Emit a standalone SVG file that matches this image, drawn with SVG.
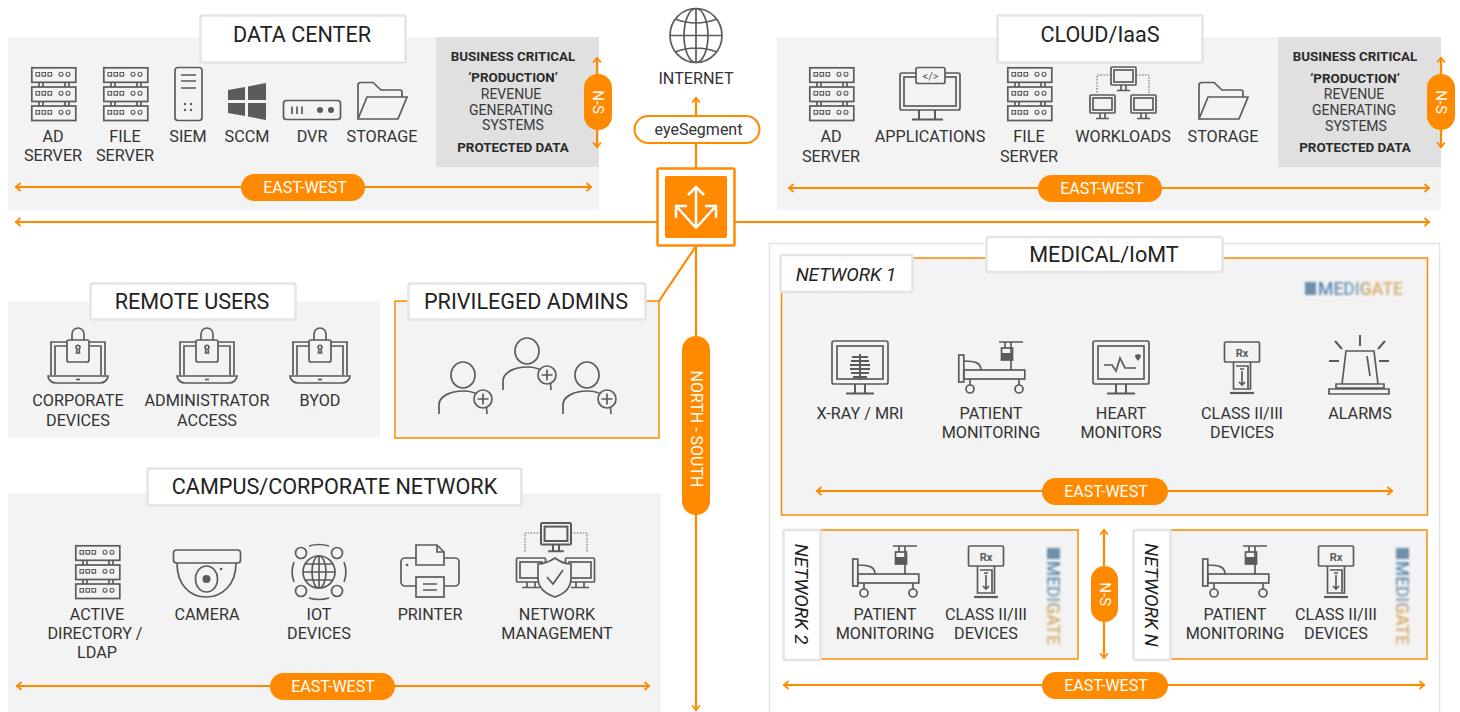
<svg xmlns="http://www.w3.org/2000/svg" width="1460" height="712" viewBox="0 0 1460 712">
<style>
text{font-family:Roboto,"Liberation Sans",sans-serif}
.panel{fill:#f3f3f3}
.op{fill:#f3f3f3;stroke:#ff8a00;stroke-width:1.5}
.grey{fill:#e0e0e0}
.tb{fill:#fff;stroke:#e4e4e4;stroke-width:2.5}
.t{font-size:21.6px;fill:#222;text-anchor:middle}
.l{font-size:16.2px;fill:#333;text-anchor:middle}
.b{font-size:13.4px;font-weight:700;fill:#2b2b2b;text-anchor:middle}
.r{font-size:14px;fill:#3a3a3a;text-anchor:middle}
.it{font-size:18.8px;font-style:italic;fill:#222;text-anchor:middle}
.ic{fill:none;stroke:#5b5b5b;stroke-width:1.7}
.if{fill:#f3f3f3;stroke:#5b5b5b;stroke-width:1.7}
.sf{fill:#5b5b5b}
.dot{fill:none;stroke:#5b5b5b;stroke-width:1;stroke-dasharray:1.5 1.5}
.c{fill:none;stroke:#ff8a00;stroke-width:2.2;marker-start:url(#ah);marker-end:url(#ah)}
.c1{fill:none;stroke:#ff8a00;stroke-width:2.2}
.pill{fill:#ff8a00}
.pt{font-size:16px;fill:#fff;text-anchor:middle}
.ns{font-size:15px;fill:#fff;text-anchor:middle}
.logo{font-size:19px;font-weight:500;fill:url(#lg);filter:url(#bl);text-anchor:middle}
.lm{fill:#6f8fa8;filter:url(#bl)}
</style>
<defs>
<marker id="ah" viewBox="0 0 7 10" refX="6.500" refY="5" markerWidth="7" markerHeight="10" markerUnits="userSpaceOnUse" orient="auto-start-reverse"><path d="M1,1 L5.500,5 L1,9" fill="none" stroke="#ff8a00" stroke-width="1.800"/></marker>
<linearGradient id="lg"><stop offset="0" stop-color="#4f7fa8"/><stop offset=".45" stop-color="#7f9fb8"/><stop offset=".6" stop-color="#d9a860"/><stop offset="1" stop-color="#d8b27e"/></linearGradient>
<filter id="bl" x="-20%" y="-30%" width="140%" height="160%"><feGaussianBlur stdDeviation="0.9"/></filter>
<g id="server"><g class="ic"><rect x="0.800" y="0.800" width="44" height="14.500"/><rect x="0.800" y="20" width="44" height="14.500"/><rect x="0.800" y="39" width="44" height="14.500"/><path d="M8,15.300V20M12,15.300V20M34,15.300V20M38,15.300V20M8,34.500V39M12,34.500V39M34,34.500V39M38,34.500V39"/></g><g fill="none" stroke="#5b5b5b" stroke-width="1.100"><path d="M5,5.500h3.600v3.600h-3.600zM11,5.500h3.600v3.600h-3.600zM17,5.500h3.600v3.600h-3.600z"/><circle cx="30" cy="7.300" r="2"/><circle cx="37" cy="7.300" r="2"/><path d="M5,24.500h3.600v3.600h-3.600zM11,24.500h3.600v3.600h-3.600zM17,24.500h3.600v3.600h-3.600z"/><circle cx="30" cy="26.300" r="2"/><circle cx="37" cy="26.300" r="2"/><path d="M5,43.500h3.600v3.600h-3.600zM11,43.500h3.600v3.600h-3.600zM17,43.500h3.600v3.600h-3.600z"/><circle cx="30" cy="45.300" r="2"/><circle cx="37" cy="45.300" r="2"/></g></g>
<g id="folder" class="ic"><path d="M1,36 V3 Q1,0.500 4,0.500 H16 L24,8 H43 Q45,8 45,10 V15"/><path d="M1,37 L10,15 H50 L41,37 Z"/></g>
<g id="laptop" class="ic"><path d="M-11,14H-27V47M11,14H27V47M-11,18H-23V47M11,18H23V47"/><path d="M-30,48H30C30,52 26,55 22,55H-22C-26,55 -30,52 -30,48Z"/><path d="M-2,51.500H2"/><path d="M-6,12V6a6,6 0 0 1 12,0V12"/><rect x="-11" y="12" width="22" height="22" rx="2"/><path d="M-1.500,25 L-1,21 a2,2 0 1 1 2,0 L1.500,25Z"/></g>
<g id="person"><path class="ic" d="M-24,39V30C-24,21 -12,16 0,16C12,16 24,21 24,39"/><ellipse class="ic" cx="0" cy="0" rx="12" ry="13"/><circle class="if" cx="20" cy="24" r="9"/><path class="ic" d="M14.500,24H25.500M20,18.500V29.500"/></g>
<g id="mon"><g class="ic"><rect x="-28" y="0" width="56" height="43" rx="2"/><rect x="-23" y="5" width="46" height="33"/><path d="M-5,43V52M5,43V52M-14,52.500H14" stroke-width="2"/></g></g>
<g id="bed"><g class="ic"><rect x="0.800" y="13" width="5" height="27"/><rect x="5.800" y="28" width="61" height="9"/><path d="M6,19C17,19 23,21 23,28"/><path d="M53,0V28M41,0H65"/><path d="M47,0V6"/><rect x="43.500" y="6" width="11" height="12"/><path d="M12,37V43M61,37V43"/><circle cx="12" cy="47" r="4"/><circle cx="61" cy="47" r="4"/></g><rect class="sf" x="43.500" y="11" width="11" height="7"/></g>
<g id="rx"><g class="ic"><rect x="-17.500" y="0" width="35" height="20" rx="1"/><path d="M-8.500,20V47H8.500V20"/><path d="M-6,24H6V47"/><path d="M0,29V43M-3,40L0,43L3,40M-2,27H2"/><path d="M-12,51H12" stroke-width="2.200"/></g><text x="0" y="14.500" text-anchor="middle" font-size="11" font-weight="700" fill="#5b5b5b">Rx</text></g>
<g id="mini"><g class="ic"><rect x="0" y="0" width="25" height="18" rx="1"/><rect x="3" y="3" width="19" height="12"/><path d="M10,18V23M15,18V23M6,23.500H19"/></g></g>
</defs>
<rect width="1460" height="712" fill="#fff"/>

<g id="data-center">
<rect class="panel" x="8" y="37" width="591" height="173"/>
<rect class="grey" x="436" y="37" width="163" height="130"/>
<rect class="tb" x="200.500" y="15.500" width="205" height="47" rx="2"/>
<text class="t" x="302" y="42">DATA CENTER</text>
<use href="#server" x="31" y="67"/><text class="l" x="53" y="142">AD</text><text class="l" x="53" y="161">SERVER</text>
<use href="#server" x="103" y="67"/><text class="l" x="125" y="142">FILE</text><text class="l" x="125" y="161">SERVER</text>
<g class="ic"><rect x="175" y="67.500" width="27" height="53" rx="3"/><path d="M181,75H196M181,81H196M181,88H196"/></g>
<g class="sf"><circle cx="185" cy="104" r="1.200"/><circle cx="191" cy="104" r="1.200"/><circle cx="185" cy="110" r="1.200"/><circle cx="191" cy="110" r="1.200"/></g>
<text class="l" x="188" y="142">SIEM</text>
<path class="sf" d="M228,90 245,87V100H228ZM248,86.500 266,83V100H248ZM228,103H245V116L228,113ZM248,103H266V120L248,116.500Z"/>
<text class="l" x="247" y="142">SCCM</text>
<rect class="ic" x="283.500" y="100.500" width="57" height="19" rx="3"/><path class="ic" d="M292,106.500V114M297,106.500V114M302,106.500V114" stroke-width="2"/><circle class="sf" cx="320" cy="110" r="3"/><circle class="sf" cx="331" cy="110" r="3"/>
<text class="l" x="312" y="142">DVR</text>
<use href="#folder" x="357" y="82"/><text class="l" x="382" y="142">STORAGE</text>
<text class="b" x="513" y="61">BUSINESS CRITICAL</text><text class="b" x="513" y="82">‘PRODUCTION’</text>
<text class="r" x="511" y="99">REVENUE</text><text class="r" x="511" y="115">GENERATING</text><text class="r" x="513" y="130">SYSTEMS</text>
<text class="b" x="513" y="152">PROTECTED DATA</text>
</g>

<g id="cloud">
<rect class="panel" x="777" y="37" width="664" height="173"/>
<rect class="grey" x="1278" y="37" width="163" height="130"/>
<rect class="tb" x="997.500" y="15.500" width="205" height="47" rx="2"/>
<text class="t" x="1100" y="42">CLOUD/IaaS</text>
<use href="#server" x="809" y="67"/><text class="l" x="831" y="142">AD</text><text class="l" x="831" y="162">SERVER</text>
<g class="ic"><rect x="900" y="73" width="60" height="37" rx="2"/><rect x="904" y="77" width="52" height="29"/><path d="M919,110V119M935,110V119M912,119.500H943" stroke-width="2"/></g>
<rect class="if" x="916" y="67.500" width="29" height="16" rx="2"/><text x="930.500" y="79.500" text-anchor="middle" font-size="11" fill="#5b5b5b">&lt;/&gt;</text>
<text class="l" x="930" y="142">APPLICATIONS</text>
<use href="#server" x="1007" y="67"/><text class="l" x="1029" y="142">FILE</text><text class="l" x="1029" y="162">SERVER</text>
<use href="#mini" x="1111" y="67"/><use href="#mini" x="1090" y="95"/><use href="#mini" x="1131" y="95"/><path class="dot" d="M1111,75H1097V93M1136,75H1149V93"/>
<text class="l" x="1123" y="142">WORKLOADS</text>
<use href="#folder" x="1198" y="82"/><text class="l" x="1223" y="142">STORAGE</text>
<text class="b" x="1355" y="61">BUSINESS CRITICAL</text><text class="b" x="1355" y="83">‘PRODUCTION’</text>
<text class="r" x="1354" y="99">REVENUE</text><text class="r" x="1354" y="115">GENERATING</text><text class="r" x="1356" y="131">SYSTEMS</text>
<text class="b" x="1355" y="152">PROTECTED DATA</text>
</g>

<g id="internet">
<g class="ic"><ellipse cx="696" cy="35.500" rx="26" ry="27"/><ellipse cx="696" cy="35.500" rx="12" ry="27"/><path d="M670,35.500H722M696,8.500V62.500M675,19Q696,27 717,19M675,52Q696,44 717,52"/></g>
<text class="l" x="696" y="84">INTERNET</text>
</g>

<g id="remote-users">
<rect class="panel" x="8" y="301" width="372" height="137"/>
<rect class="tb" x="90.500" y="283.500" width="205" height="36" rx="2"/>
<text class="t" x="192" y="309">REMOTE USERS</text>
<use href="#laptop" x="78" y="328"/><text class="l" x="78" y="406">CORPORATE</text><text class="l" x="78" y="426">DEVICES</text>
<use href="#laptop" x="207" y="328"/><text class="l" x="207" y="406">ADMINISTRATOR</text><text class="l" x="207" y="426">ACCESS</text>
<use href="#laptop" x="320" y="328"/><text class="l" x="320" y="406">BYOD</text>
</g>

<g id="privileged-admins">
<rect class="op" x="395" y="301" width="264" height="137"/>
<rect class="tb" x="408.500" y="283.500" width="237" height="36" rx="2"/>
<text class="t" x="526" y="309">PRIVILEGED ADMINS</text>
<use href="#person" x="463" y="375"/><use href="#person" x="527" y="351"/><use href="#person" x="587" y="375"/>
</g>

<g id="campus">
<rect class="panel" x="8" y="493" width="653" height="219"/>
<rect class="tb" x="147.500" y="468.500" width="374" height="37" rx="2"/>
<text class="t" x="334.500" y="494">CAMPUS/CORPORATE NETWORK</text>
<use href="#server" x="75" y="545"/>
<text class="l" x="97" y="620">ACTIVE</text><text class="l" x="95" y="639">DIRECTORY /</text><text class="l" x="97" y="658">LDAP</text>
<g class="ic"><rect x="173.500" y="550" width="67" height="13" rx="3"/><path d="M177,563C177,585 190,597 206,597C222,597 236,585 236,563"/><ellipse cx="206.500" cy="579" rx="11" ry="13"/></g><circle class="sf" cx="206.500" cy="579" r="4"/><circle class="sf" cx="221" cy="569" r="1.300"/>
<text class="l" x="207" y="620">CAMERA</text>
<g class="ic"><circle cx="319" cy="572" r="16"/><ellipse cx="319" cy="572" rx="7" ry="16"/><path d="M303,572H335M319,556V588M305,564H333M305,580H333"/><path d="M294,562A28,28 0 0 0 294,582M344,562A28,28 0 0 1 344,582M309,546Q319,543 329,546M309,598Q319,601 329,598"/></g>
<g class="if"><circle cx="301" cy="553" r="5.500"/><circle cx="337" cy="553" r="5.500"/><circle cx="301" cy="591" r="5.500"/><circle cx="337" cy="591" r="5.500"/></g>
<text class="l" x="319" y="620">IOT</text><text class="l" x="319" y="639">DEVICES</text>
<g class="ic"><rect x="401" y="558" width="58" height="28" rx="4"/><path class="if" d="M416,565V545H437L444,552V565Z"/><path d="M437,545V552H444"/><rect class="if" x="416" y="577" width="28" height="20"/><path d="M423,584H437M423,590H437"/></g><circle class="sf" cx="407" cy="565" r="1.300"/>
<text class="l" x="430" y="620">PRINTER</text>
<use href="#mini" transform="translate(541,523) scale(1.200)"/>
<path class="dot" d="M541,533H525V553M571,533H587V553"/>
<g class="ic"><rect x="516.500" y="558" width="29" height="24" rx="1"/><rect x="520" y="562" width="22" height="16"/><path d="M527,582V587M535,582V587M522,587.500H540"/><rect x="565.500" y="558" width="29" height="24" rx="1"/><rect x="569" y="562" width="22" height="16"/><path d="M576,582V587M584,582V587M571,587.500H589"/></g>
<path class="if" d="M555,558Q546,564 538,564V578C538,588 546,594 555,597C564,594 571,588 571,578V564Q563,564 555,558Z"/>
<path class="ic" d="M547,577L553,584L563,570"/>
<text class="l" x="557" y="620">NETWORK</text><text class="l" x="557" y="639">MANAGEMENT</text>
</g>

<g id="medical">
<rect x="769.500" y="243.500" width="670" height="470" fill="#fff" stroke="#e4e4e4" stroke-width="1.500"/>
<rect class="op" x="781.500" y="258" width="646" height="257"/>
<rect class="tb" x="986.500" y="237" width="236" height="35" rx="2"/>
<text class="t" x="1104" y="262">MEDICAL/IoMT</text>
</g>

<g id="network-1">
<rect class="tb" x="780.500" y="255" width="132" height="37" rx="2"/>
<text class="it" x="846" y="281">NETWORK 1</text>
<rect class="lm" x="1305" y="282" width="11" height="13"/>
<text class="logo" x="1360.500" y="295" textLength="85" lengthAdjust="spacingAndGlyphs">MEDIGATE</text>
<use href="#mon" x="860" y="341"/>
<path d="M860,354V380M852,357H868M851,361H869M850,365H870M850,369H870M851,373H869M853,377H867" stroke="#5b5b5b" stroke-width="2" fill="none"/>
<text class="l" x="860" y="419">X-RAY / MRI</text>
<use href="#bed" x="958" y="342"/><text class="l" x="991" y="419">PATIENT</text><text class="l" x="991" y="438">MONITORING</text>
<use href="#mon" x="1121" y="341"/>
<path class="ic" d="M1104,365H1112L1116,371L1120,358L1125,368H1136"/>
<path class="sf" d="M1135,356a2,2 0 0 1 3,-1.500a2,2 0 0 1 3,1.500q0,2 -3,5q-3,-3 -3,-5Z"/>
<text class="l" x="1121" y="419">HEART</text><text class="l" x="1121" y="438">MONITORS</text>
<use href="#rx" x="1242" y="342"/>
<text class="l" x="1242" y="419">CLASS II/III</text><text class="l" x="1242" y="438">DEVICES</text>
<g class="ic"><path d="M1342,384L1346,351H1374L1378,384"/><path d="M1367,356L1370,376"/><path d="M1336,384H1384V388H1336ZM1329,389H1389V394H1329Z"/><path d="M1360,335V346M1335,341L1342,349M1385,341L1378,349M1329,361H1339M1379,361H1389" stroke-width="2"/></g>
<text class="l" x="1360" y="419">ALARMS</text>
</g>

<g id="network-2">
<rect class="op" x="820" y="530" width="258" height="129"/>
<rect class="tb" x="783.500" y="530" width="37" height="130" rx="2"/>
<text class="it" transform="translate(795,594) rotate(90)" x="0" y="0">NETWORK 2</text>
<use href="#bed" x="852" y="546"/><text class="l" x="885" y="620">PATIENT</text><text class="l" x="885" y="639">MONITORING</text>
<use href="#rx" x="986" y="546"/><text class="l" x="986" y="620">CLASS II/III</text><text class="l" x="986" y="639">DEVICES</text>
<rect class="lm" x="1047" y="548" width="13" height="11"/>
<text class="logo" transform="translate(1047,603) rotate(90)" textLength="84" lengthAdjust="spacingAndGlyphs">MEDIGATE</text>
</g>

<g id="network-n">
<rect class="op" x="1170" y="530" width="257" height="129"/>
<rect class="tb" x="1133.500" y="530" width="37" height="130" rx="2"/>
<text class="it" transform="translate(1145,595) rotate(90)" x="0" y="0">NETWORK N</text>
<use href="#bed" x="1202" y="546"/><text class="l" x="1235" y="620">PATIENT</text><text class="l" x="1235" y="639">MONITORING</text>
<use href="#rx" x="1336" y="546"/><text class="l" x="1336" y="620">CLASS II/III</text><text class="l" x="1336" y="639">DEVICES</text>
<rect class="lm" x="1396" y="548" width="13" height="11"/>
<text class="logo" transform="translate(1396,603) rotate(90)" textLength="84" lengthAdjust="spacingAndGlyphs">MEDIGATE</text>
</g>

<g id="connectors">
<path class="c" d="M15,222H1430"/>
<path class="c1" d="M696,246L659,301"/>
<path class="c1" d="M696,143V168"/>
<path class="c" d="M696,116V97" style="marker-start:none"/>
<path class="c" d="M696,246V711" style="marker-start:none"/>
<path class="c" d="M597,57V148"/>
<path class="c" d="M1441,57V148"/>
<path class="c" d="M15,187H592"/>
<path class="c" d="M788,188H1430"/>
<path class="c" d="M16,686H650"/>
<path class="c" d="M816,491H1393"/>
<path class="c" d="M783,685H1425"/>
<path class="c" d="M1104,529V659"/>
</g>

<g id="pills">
<rect class="pill" x="584" y="74" width="28" height="56" rx="14"/><text class="ns" transform="translate(593,102) rotate(90)">N-S</text>
<rect class="pill" x="1427" y="74" width="28" height="56" rx="14"/><text class="ns" transform="translate(1436,102) rotate(90)">N-S</text>
<rect class="pill" x="241" y="174" width="124" height="27" rx="13.500"/><text class="pt" x="305" y="193">EAST-WEST</text>
<rect class="pill" x="1038" y="175" width="124" height="27" rx="13.500"/><text class="pt" x="1102" y="194">EAST-WEST</text>
<rect class="pill" x="270" y="673" width="125" height="27" rx="13.500"/><text class="pt" x="333" y="692">EAST-WEST</text>
<rect class="pill" x="1042" y="478" width="126" height="27" rx="13.500"/><text class="pt" x="1106" y="497">EAST-WEST</text>
<rect class="pill" x="1042" y="672" width="126" height="27" rx="13.500"/><text class="pt" x="1106" y="691">EAST-WEST</text>
<rect class="pill" x="1091" y="566" width="27" height="56" rx="13.500"/><text class="ns" transform="translate(1099.500,594) rotate(90)">N-S</text>
<rect class="pill" x="682" y="336" width="28" height="179" rx="14"/><text class="pt" transform="translate(691,429) rotate(90)">NORTH - SOUTH</text>
</g>

<g id="eyesegment">
<rect x="634.500" y="116" width="125" height="27" rx="13.500" fill="#fff" stroke="#ff8a00" stroke-width="2"/>
<text x="698.500" y="135" font-size="16" fill="#333" text-anchor="middle">eyeSegment</text>
</g>

<g id="switch">
<rect x="657.500" y="168.500" width="77" height="77" fill="#fff" stroke="#ff8a00" stroke-width="2.500" rx="1"/>
<rect x="665" y="176" width="62" height="62" fill="#ff8a00" rx="2"/>
<path d="M696,228V187M688,195L696,187L704,195M696,228L677,207M696,228L715,207M676,218V206H687M716,218V206H705" fill="none" stroke="#fff" stroke-width="2.500"/>
</g>
</svg>
